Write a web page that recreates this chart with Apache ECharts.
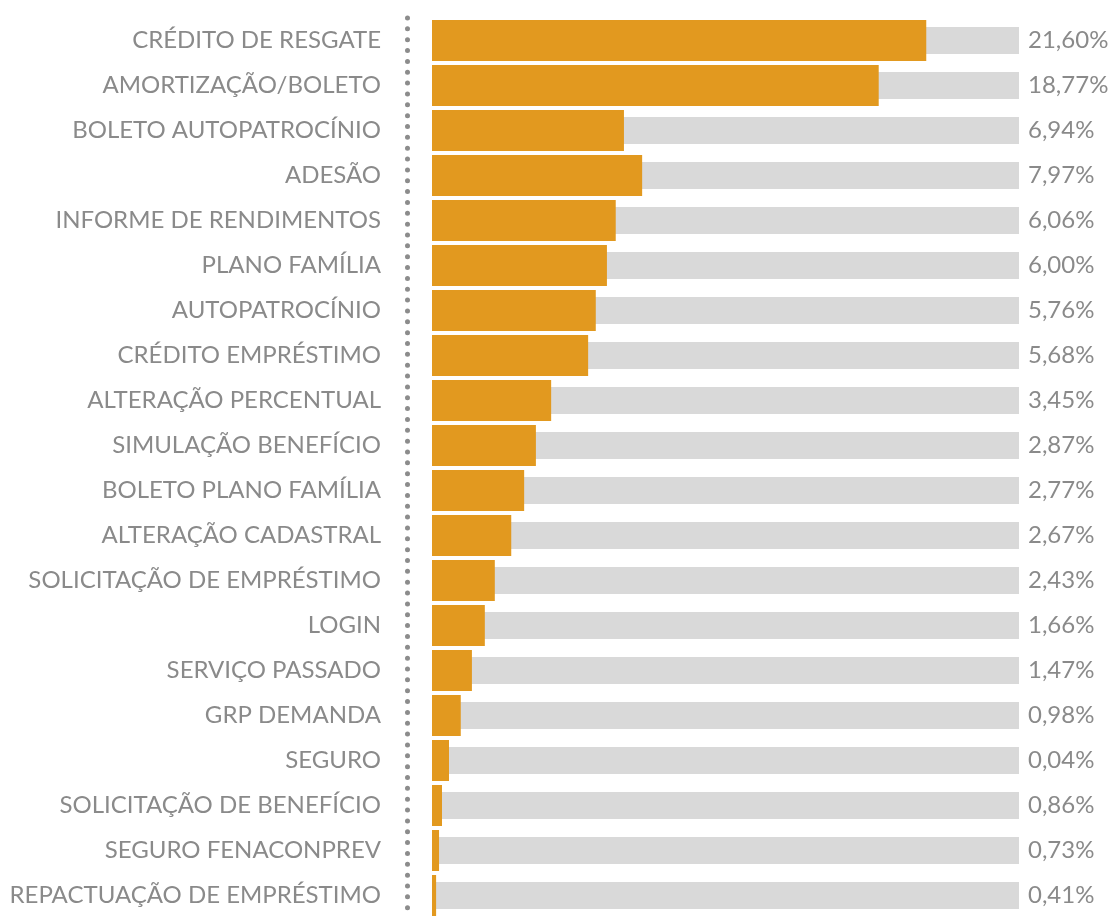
<!DOCTYPE html>
<html>
<head>
<meta charset="utf-8">
<script src="https://cdn.jsdelivr.net/npm/echarts@6/dist/echarts.min.js"></script>
<style>
  html, body { margin: 0; padding: 0; background: #fff; }
  #chart { width: 1110px; height: 918px; }
</style>
</head>
<body>
<div id="chart"></div>
<script>
  // categorias, de cima para baixo
  var categories = [
    'CRÉDITO DE RESGATE', 'AMORTIZAÇÃO/BOLETO', 'BOLETO AUTOPATROCÍNIO', 'ADESÃO',
    'INFORME DE RENDIMENTOS', 'PLANO FAMÍLIA', 'AUTOPATROCÍNIO', 'CRÉDITO EMPRÉSTIMO',
    'ALTERAÇÃO PERCENTUAL', 'SIMULAÇÃO BENEFÍCIO', 'BOLETO PLANO FAMÍLIA', 'ALTERAÇÃO CADASTRAL',
    'SOLICITAÇÃO DE EMPRÉSTIMO', 'LOGIN', 'SERVIÇO PASSADO', 'GRP DEMANDA',
    'SEGURO', 'SOLICITAÇÃO DE BENEFÍCIO', 'SEGURO FENACONPREV', 'REPACTUAÇÃO DE EMPRÉSTIMO'
  ]
  // comprimento das barras laranja (escala 0-100 da trilha cinza)
  var barValues = [84.2, 76.1, 32.7, 35.8, 31.3, 29.8, 27.9, 26.6, 20.3, 17.7,
                   15.7, 13.5, 10.7, 9.0, 6.8, 4.9, 2.9, 1.7, 1.2, 0.7]
  // trilha cinza
  var trackValues = categories.map(function () { return 100 })
  // rótulos da direita
  var pctLabels = ['21,60%', '18,77%', '6,94%', '7,97%', '6,06%', '6,00%', '5,76%', '5,68%',
                   '3,45%', '2,87%', '2,77%', '2,67%', '2,43%', '1,66%', '1,47%', '0,98%',
                   '0,04%', '0,86%', '0,73%', '0,41%']

  var chart = echarts.init(document.getElementById('chart'))
  var option = {
    animation: false,
    grid: { left: 432, right: 91, top: 18, height: 907, containLabel: false },
    xAxis: { type: 'value', min: 0, max: 100, show: false },
    yAxis: [
      {
        type: 'category',
        inverse: true,
        data: categories,
        offset: 25,
        axisTick: { show: false },
        axisLine: {
          show: true,
          onZero: false,
          lineStyle: { color: '#8c8c8c', width: 5, type: [0, 10.85], cap: 'round' }
        },
        axisLabel: {
          margin: 26,
          color: '#8a8a8a',
          fontFamily: 'Lato',
          fontSize: 24,
          padding: [0, 0, 7, 0]
        },
        splitLine: { show: false }
      },
      {
        // eixo escondido só para centralizar a trilha cinza
        type: 'category',
        inverse: true,
        data: categories,
        show: false
      }
    ],
    series: [
      {
        name: 'trilha',
        type: 'bar',
        yAxisIndex: 1,
        data: trackValues,
        barWidth: 27,
        silent: true,
        itemStyle: { color: '#d9d9d9' },
        label: {
          show: true,
          position: 'right',
          distance: 9,
          color: '#8a8a8a',
          fontFamily: 'Lato',
          fontSize: 24,
          formatter: function (p) { return pctLabels[p.dataIndex] }
        }
      },
      {
        name: 'valor',
        type: 'bar',
        yAxisIndex: 0,
        data: barValues,
        barWidth: 41,
        itemStyle: { color: '#e2991f' }
      }
    ]
  }
  chart.setOption(option)
</script>
</body>
</html>
